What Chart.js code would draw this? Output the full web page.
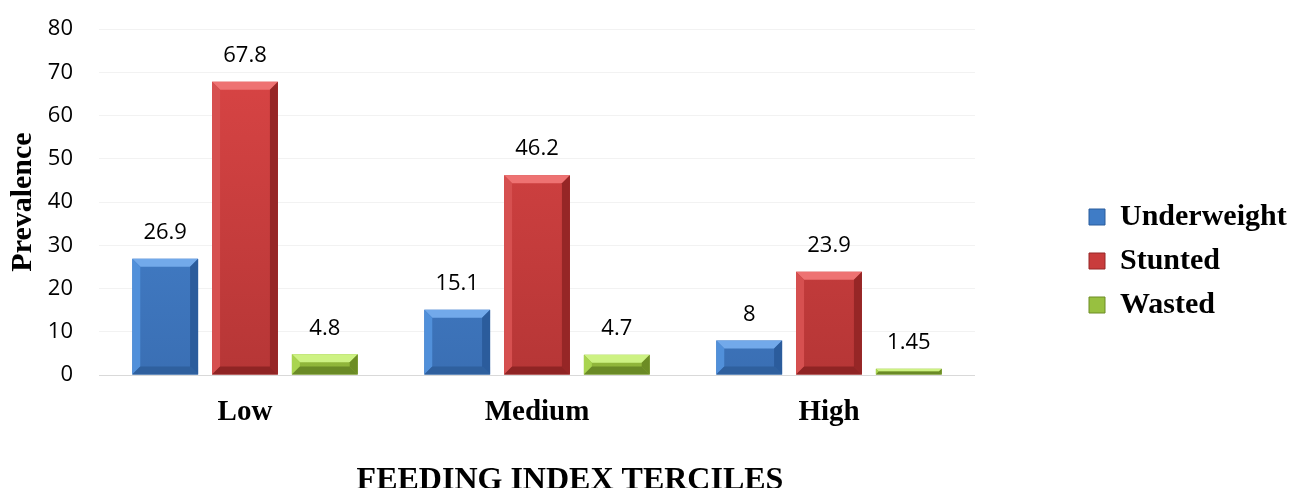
<!DOCTYPE html>
<html>
<head>
<meta charset="utf-8">
<script src="https://cdn.jsdelivr.net/npm/chart.js@4.4.1/dist/chart.umd.min.js"></script>
<style>
  html, body { margin: 0; padding: 0; overflow: hidden; background: #fff; }
  #wrap { width: 1296px; height: 500px; }
</style>
</head>
<body>
<div id="wrap"><canvas id="chart"></canvas></div>
<script>
// data
const categories = ['Low', 'Medium', 'High'];
const seriesNames = ['Underweight', 'Stunted', 'Wasted'];
const underweight = [26.9, 15.1, 8];
const stunted = [67.8, 46.2, 23.9];
const wasted = [4.8, 4.7, 1.45];
const yMin = 0;
const yMax = 80;
const yStep = 10;
const xTitle = 'FEEDING INDEX TERCILES';

// bar colours (face gradient + bevel shades)
const palettes = [
  { top: '#4a8ad8', bottom: '#3a6fb4', solid: '#3f7cc6', light: '#72a9ea', side: '#5190da', dark: '#2b5c9c', under: '#2f609e' },
  { top: '#dc4646', bottom: '#b63636', solid: '#c93c3c', light: '#ee7272', side: '#d65050', dark: '#962626', under: '#8f2424' },
  { top: '#a4cd48', bottom: '#8fb53a', solid: '#98c040', light: '#cdf283', side: '#a9d450', dark: '#6c8c24', under: '#6a8a26' }
];

const serif = 'Liberation Serif, Times New Roman, serif';
const sans = 'Open Sans, Noto Sans, sans-serif';

function faceColor(i) {
  return (c) => {
    const area = c.chart.chartArea;
    if (!area) return palettes[i].solid;
    const g = c.chart.ctx.createLinearGradient(0, area.top, 0, area.bottom);
    g.addColorStop(0, palettes[i].top);
    g.addColorStop(1, palettes[i].bottom);
    return g;
  };
}

function poly(ctx, pts, color) {
  ctx.beginPath();
  ctx.moveTo(pts[0][0], pts[0][1]);
  for (let k = 1; k < pts.length; k++) ctx.lineTo(pts[k][0], pts[k][1]);
  ctx.closePath();
  ctx.fillStyle = color;
  ctx.fill();
}

// bevel edges, value labels, and the x axis title (sits right of centre in the original)
const bevelPlugin = {
  id: 'bevel',
  afterDatasetsDraw(chart) {
    const ctx = chart.ctx;
    ctx.save();
    chart.data.datasets.forEach((ds, i) => {
      const meta = chart.getDatasetMeta(i);
      const pal = palettes[i];
      meta.data.forEach((bar, j) => {
        const p = bar.getProps(['x', 'y', 'base', 'width'], true);
        const l = p.x - p.width / 2, r = p.x + p.width / 2, t = p.y, btm = p.base;
        const b = Math.min(8, (btm - t) / 2);
        poly(ctx, [[l, t], [r, t], [r - b, t + b], [l + b, t + b]], pal.light);
        poly(ctx, [[l, t], [l + b, t + b], [l + b, btm - b], [l, btm]], pal.side);
        poly(ctx, [[r, t], [r, btm], [r - b, btm - b], [r - b, t + b]], pal.dark);
        poly(ctx, [[l, btm], [l + b, btm - b], [r - b, btm - b], [r, btm]], pal.under);

        ctx.fillStyle = '#000';
        ctx.font = '22px ' + sans;
        ctx.textAlign = 'center';
        ctx.textBaseline = 'middle';
        ctx.fillText(String(ds.data[j]), p.x, t - 26);
      });
    });
    ctx.restore();
  },
  afterDraw(chart) {
    const ctx = chart.ctx;
    const area = chart.chartArea;
    ctx.save();
    ctx.fillStyle = '#000';
    ctx.font = 'bold 32px ' + serif;
    ctx.textAlign = 'center';
    ctx.textBaseline = 'alphabetic';
    ctx.fillText(xTitle, (area.left + area.right) / 2 + 33, 489);
    ctx.restore();
  }
};

const ctx = document.getElementById('chart').getContext('2d');
new Chart(ctx, {
  type: 'bar',
  data: {
    labels: categories,
    datasets: [
      { label: seriesNames[0], data: underweight, backgroundColor: faceColor(0) },
      { label: seriesNames[1], data: stunted, backgroundColor: faceColor(1) },
      { label: seriesNames[2], data: wasted, backgroundColor: faceColor(2) }
    ]
  },
  options: {
    responsive: true,
    maintainAspectRatio: false,
    animation: false,
    categoryPercentage: 0.82,
    barPercentage: 0.825,
    layout: { padding: { top: 0, left: 0, right: 6, bottom: 0 } },
    plugins: {
      tooltip: { enabled: false },
      legend: {
        position: 'right',
        align: 'center',
        // empty title, only used to nudge the items down a little
        title: { display: true, text: '', color: '#000', font: { size: 15 }, padding: 2 },
        labels: {
          color: '#000',
          font: { family: serif, size: 30, weight: 'bold' },
          boxWidth: 16,
          boxHeight: 16,
          padding: 14,
          generateLabels: (chart) => chart.data.datasets.map((ds, i) => ({
            text: ds.label,
            fillStyle: palettes[i].solid,
            strokeStyle: palettes[i].dark,
            fontColor: '#000',
            lineWidth: 1,
            datasetIndex: i
          }))
        }
      }
    },
    scales: {
      x: {
        afterFit: (scale) => { scale.height = 125; },
        grid: { display: false },
        border: { display: false },
        ticks: {
          color: '#000',
          font: { family: serif, size: 29, weight: 'bold' },
          padding: 12
        }
      },
      y: {
        min: yMin,
        max: yMax,
        afterFit: (scale) => {
          scale.width = 99;
          scale.paddingTop = 29;
          scale.paddingBottom = 0;
        },
        ticks: {
          stepSize: yStep,
          color: '#000',
          font: { family: sans, size: 22 },
          padding: 26
        },
        grid: {
          drawTicks: false,
          color: (c) => (c.tick && c.tick.value === 0 ? '#d9d9d9' : '#f2f2f2')
        },
        border: { display: false },
        title: {
          display: true,
          text: 'Prevalence',
          color: '#000',
          font: { family: serif, size: 30, weight: 'bold' },
          padding: { top: 5, bottom: 0 }
        }
      },
      spacer: {
        type: 'linear',
        position: 'right',
        display: true,
        grid: { display: false },
        border: { display: false },
        ticks: { display: false },
        afterFit: (scale) => {
          scale.width = 100;
          scale.paddingTop = 0;
          scale.paddingBottom = 0;
        }
      }
    }
  },
  plugins: [bevelPlugin]
});
</script>
</body>
</html>
